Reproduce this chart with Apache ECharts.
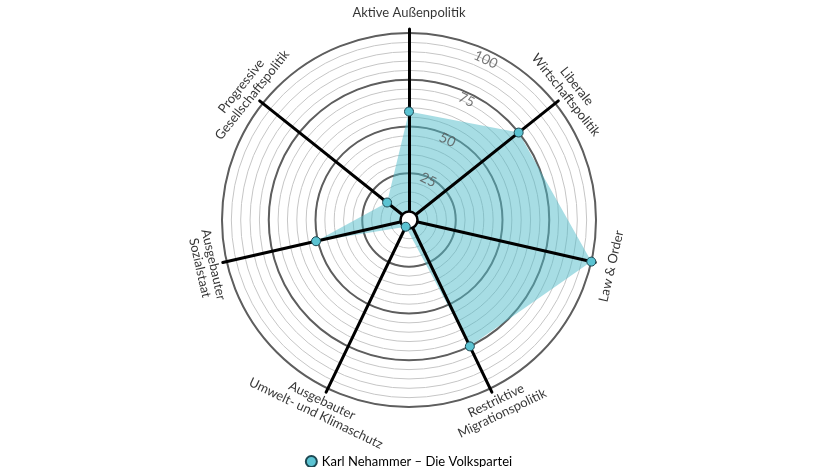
<!DOCTYPE html>
<html>
<head>
<meta charset="utf-8">
<script src="https://cdn.jsdelivr.net/npm/echarts@6/dist/echarts.min.js"></script>
<style>
html, body { margin: 0; padding: 0; background: #fff; }
#spider { width: 817px; height: 467px; }
</style>
</head>
<body>
<div id="spider"></div>
<script>
// axes as they appear on the picture, clockwise from the top
var axisNames = ['Aktive Außenpolitik', 'Liberale\nWirtschaftspolitik', 'Law & Order', 'Restriktive\nMigrationspolitik', 'Ausgebauter\nUmwelt- und Klimaschutz', 'Ausgebauter\nSozialstaat', 'Progressive\nGesellschaftspolitik']
var nehammer = [58, 75, 100, 75, 4, 51, 15]
var ringTicks = [25, 50, 75, 100]
var seriesName = 'Karl Nehammer – Die Volkspartei'

var CENTER = [409, 220]
var R = 187 // pixel radius of the 100 ring
var FONT = 'Lato'

// echarts lays radar indicators out counter-clockwise, so flip the order after the first one
var ccw = [0].concat(axisNames.map(function (d, i) { return i }).slice(1).reverse())
function indicators(max) {
  return ccw.map(function (i) { return { name: '', max: max, min: 0 } })
}
function radarBase(extra) {
  return Object.assign({
    center: CENTER,
    radius: R,
    startAngle: 90,
    shape: 'circle',
    indicator: indicators(100),
    axisName: { show: false },
    axisLine: { show: false },
    axisTick: { show: false },
    axisLabel: { show: false },
    splitArea: { show: false }
  }, extra)
}

// label positions along each spoke (polar coordinates: [radius value, angle in degrees])
var step = 360 / axisNames.length
var nameData = axisNames.map(function (name, i) {
  var ang = 90 - i * step
  var norm = ((ang + 180) % 360 + 360) % 360 - 180
  var rot = Math.sin(norm * Math.PI / 180) >= -0.001 ? norm - 90 : norm + 90
  return { name: name, value: [111, ang], label: { rotate: rot } }
})
var tickData = ringTicks.map(function (v) {
  return { name: String(v), value: [v * 0.95, 64.4] }
})

var chart = echarts.init(document.getElementById('spider'))
chart.setOption({
  animation: false,
  polar: { center: CENTER, radius: R * 1.2 },
  radiusAxis: { min: 0, max: 120, show: false },
  angleAxis: { type: 'value', min: 0, max: 360, startAngle: 0, clockwise: false, show: false },
  radar: [
    radarBase({ z: 1, splitNumber: 20, splitLine: { lineStyle: { color: '#c6c6c6', width: 1 } } }),
    radarBase({ z: 1, splitNumber: 4, splitLine: { lineStyle: { color: '#5e5e5e', width: 2 } } }),
    radarBase({
      z: 3,
      radius: 191,
      splitLine: { show: false },
      axisLine: { show: true, lineStyle: { color: '#000', width: 3 } }
    })
  ],
  legend: {
    data: [seriesName],
    top: 450,
    left: 'center',
    icon: 'circle',
    itemWidth: 11,
    itemHeight: 11,
    itemGap: 4,
    textStyle: { fontFamily: FONT, fontSize: 13, color: '#000' }
  },
  series: [
    {
      name: 'flaeche',
      type: 'radar',
      radarIndex: 0,
      z: 2,
      symbol: 'none',
      lineStyle: { width: 0 },
      areaStyle: { color: 'rgb(80,188,202)', opacity: 0.5 },
      data: [{ value: ccw.map(function (i) { return nehammer[i] }) }]
    },
    {
      name: 'mitte',
      type: 'scatter',
      coordinateSystem: 'polar',
      z: 4,
      symbolSize: 17,
      itemStyle: { color: '#fff', borderColor: '#000', borderWidth: 2.5, opacity: 1 },
      data: [[0, 0]]
    },
    {
      name: seriesName,
      type: 'radar',
      radarIndex: 0,
      z: 5,
      symbol: 'circle',
      symbolSize: 9,
      lineStyle: { width: 0, opacity: 0 },
      itemStyle: { color: '#5bc3d2', borderColor: '#1d4852', borderWidth: 1 },
      data: [{ value: ccw.map(function (i) { return nehammer[i] }), name: seriesName }]
    },
    {
      name: 'achsen',
      type: 'scatter',
      coordinateSystem: 'polar',
      z: 5,
      symbolSize: 0,
      label: {
        show: true,
        position: 'inside',
        formatter: '{b}',
        fontFamily: FONT,
        fontSize: 13,
        lineHeight: 14,
        color: '#000',
        align: 'center',
        verticalAlign: 'middle'
      },
      data: nameData
    },
    {
      name: 'ringe',
      type: 'scatter',
      coordinateSystem: 'polar',
      z: 5,
      symbolSize: 0,
      label: {
        show: true,
        position: 'inside',
        formatter: '{b}',
        rotate: -25.6,
        fontFamily: FONT,
        fontSize: 14,
        color: '#555',
        align: 'center',
        verticalAlign: 'middle'
      },
      data: tickData
    }
  ]
})
</script>
</body>
</html>
